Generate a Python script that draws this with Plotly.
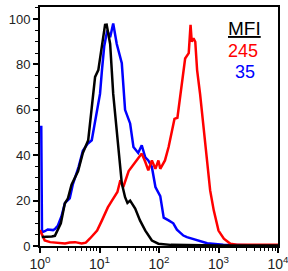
import plotly.graph_objects as go

# Fluorescence intensity (x) and % of max (y) for each histogram
black_x = [1.07, 1.26, 1.58, 1.78, 2.0, 2.24, 2.61, 2.95, 3.39, 3.98, 4.37, 5.25, 6.46, 7.41,
           7.94, 8.43, 9.55, 11.0, 12.4, 13.2, 15.1, 17.0, 19.5, 20.9, 23.7, 26.9, 29.5, 32.7,
           39.8, 47.9, 58.9, 75.9, 97.7, 158, 398, 1000, 10000]
black_y = [4, 4, 4.2, 4.5, 7, 10, 18.7, 21, 27, 31, 33, 41, 46.6, 61,
           70, 74.5, 77.5, 89, 97.4, 97.5, 89, 67, 51, 42, 27.6, 21.5, 19, 20,
           16.5, 11.3, 6.8, 2.4, 1, 0.5, 0.3, 0.2, 0.2]

blue_x = [1.05, 1.08, 1.20, 1.35, 1.66, 1.78, 2.0, 2.29, 2.63, 2.95, 3.16, 3.55, 3.98, 4.47,
          5.25, 6.31, 7.41, 8.91, 10.2, 11.0, 12.0, 13.5, 15.1, 17.0, 19.5, 23.7, 26.9, 32.7,
          37.2, 44.7, 51.3, 58.9, 66.1, 75.9, 87.1, 105, 120, 145, 174, 200, 257, 295,
          468, 646, 1202, 3162, 10000]
blue_y = [53, 6, 6.5, 7.3, 7, 7.5, 9, 13, 19, 20.5, 21, 27, 31, 35,
          42, 45, 46.6, 58.5, 67, 77.5, 88, 95, 92, 98, 89, 80.5, 60, 54,
          43.6, 41, 44.4, 39, 37.7, 34.8, 26, 22, 12.5, 11.3, 10, 7.2, 4.6, 3.9,
          2.4, 1.2, 0.6, 0.3, 0.3]

red_x = [1.0, 1.20, 1.48, 2.0, 2.63, 3.16, 3.89, 5.01, 5.89, 6.92, 9.12, 11.0, 13.8, 16.2,
         20.0, 22.4, 25.1, 30.9, 37.2, 44.7, 51.3, 58.9, 66.1, 75.9, 87.1, 97.7, 105, 126,
         145, 166, 182, 204, 229, 257, 275, 316, 339, 355, 380, 407, 437, 490, 550, 589,
         646, 724, 832, 1000, 1230, 1585, 2040, 10000]
red_y = [7, 2.4, 1.7, 1.5, 1.1, 1.5, 1.7, 1.1, 1.5, 3.3, 6.8, 11.3, 17, 20,
         23.8, 29, 26, 33, 36, 39, 40.7, 37, 33.3, 37.7, 34, 37.7, 34, 37.7,
         43.6, 51, 56, 56.5, 67, 79, 82.6, 85, 97.4, 90, 91.5, 90, 77.5, 67, 55, 46.6,
         37.7, 24.5, 15.7, 6.8, 3.2, 1, 0.6, 0.5]

x_tickvals = [1, 10, 100, 1000, 10000]
x_ticktext = ["10<sup>0</sup>", "10<sup>1</sup>", "10<sup>2</sup>", "10<sup>3</sup>", "10<sup>4</sup>"]
y_tickvals = [0, 20, 40, 60, 80, 100]

mfi_title = "MFI"
mfi_values = ["245", "35"]
mfi_colors = ["#ff0000", "#0000ff"]

fig = go.Figure()
fig.add_trace(go.Scatter(x=blue_x, y=blue_y, mode="lines",
                         line=dict(color="#0000ff", width=2.5)))
fig.add_trace(go.Scatter(x=red_x, y=red_y, mode="lines",
                         line=dict(color="#ff0000", width=2.5)))
fig.add_trace(go.Scatter(x=black_x, y=black_y, mode="lines",
                         line=dict(color="#000000", width=2.5)))

font_family = "Arial, Liberation Sans, sans-serif"

fig.update_layout(
    width=288, height=271,
    margin=dict(l=40, r=10, t=7, b=25),
    paper_bgcolor="white", plot_bgcolor="white",
    showlegend=False,
    font=dict(family=font_family, size=13, color="#222"),
    xaxis=dict(
        type="log", range=[0, 4],
        tickvals=x_tickvals, ticktext=x_ticktext,
        ticks="outside", ticklen=5, tickwidth=1.5, tickcolor="black",
        minor=dict(dtick="D1", ticks="outside", ticklen=3, tickwidth=1, tickcolor="black", showgrid=False),
        showline=True, linecolor="black", linewidth=2, mirror=True,
        showgrid=False, zeroline=False, automargin=False,
        ticklabeloverflow="allow", ticklabelstandoff=-1,
        tickfont=dict(size=14),
    ),
    yaxis=dict(
        range=[0, 105.3],
        tickvals=y_tickvals,
        ticks="outside", ticklen=5, tickwidth=1.5, tickcolor="black",
        minor=dict(dtick=5, ticks="outside", ticklen=3, tickwidth=1, tickcolor="black", showgrid=False),
        showline=True, linecolor="black", linewidth=2, mirror=True,
        showgrid=False, zeroline=False, automargin=False,
        ticklabeloverflow="allow",
        tickfont=dict(size=13),
    ),
    annotations=[
        dict(text="<u>" + mfi_title + "</u>", x=0.861, y=0.912, xref="paper", yref="paper",
             showarrow=False, font=dict(size=19, color="black", family=font_family),
             xanchor="center", yanchor="middle"),
        dict(text=mfi_values[0], x=0.855, y=0.816, xref="paper", yref="paper",
             showarrow=False, font=dict(size=18, color=mfi_colors[0], family=font_family),
             xanchor="center", yanchor="middle"),
        dict(text=mfi_values[1], x=0.861, y=0.729, xref="paper", yref="paper",
             showarrow=False, font=dict(size=18, color=mfi_colors[1], family=font_family),
             xanchor="center", yanchor="middle"),
    ],
)

fig.write_html("out.html", config={"displayModeBar": False},
               post_script="document.body.style.margin='0';")
